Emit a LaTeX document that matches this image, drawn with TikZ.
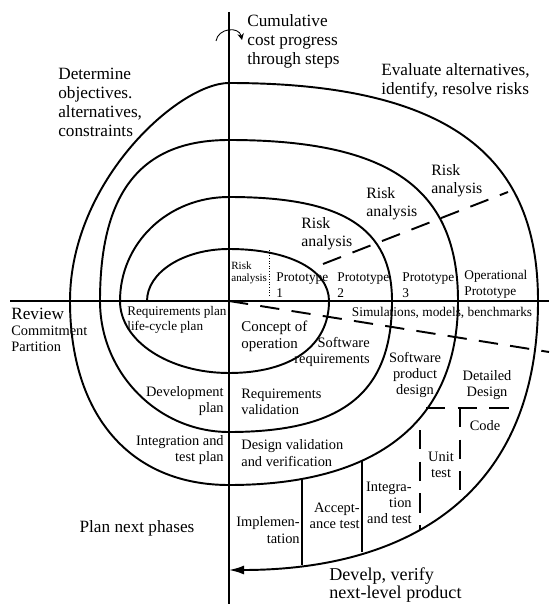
\documentclass[tikz,border=0pt]{standalone}
\usepackage{fontspec}
\setmainfont{Liberation Serif}
\usetikzlibrary{arrows.meta}

\begin{document}
\begin{tikzpicture}[
  x=0.02cm, y=-0.02cm,
  curve/.style={line width=1.1pt},
  dsh/.style={line width=1.1pt, dash pattern=on 11pt off 7pt},
  big/.style={inner sep=0pt, font=\fontsize{9.8}{10.8}\selectfont, align=left},
  risk/.style={inner sep=0pt, font=\fontsize{9}{10}\selectfont, align=left},
  mid/.style={inner sep=0pt, font=\fontsize{8.2}{9.2}\selectfont},
  sml/.style={inner sep=0pt, font=\fontsize{7.6}{9}\selectfont, align=left},
]
\useasboundingbox (0,0) rectangle (550,604);

% axes
\coordinate (O) at (229,301);
\draw[curve] (229,12) -- (229,604);
\draw[curve] (10,301) -- (549,301);

% cumulative cost marker
\draw[line width=0.5pt, -{Stealth[length=1.3mm,width=1.3mm]}] (216,41) .. controls (218,28) and (239,26) .. (242,40);

% the spiral
\draw[curve, -{Latex[length=3mm,width=1.8mm]}] (147,301)
  .. controls (147,272) and (184,249) .. (229,249)
  .. controls (289,249) and (329,270) .. (329,301)
  .. controls (329,346) and (291,373) .. (229,373)
  .. controls (169,373) and (120,341) .. (120,301)
  .. controls (120,243) and (168,197) .. (229,197)
  .. controls (343,197) and (392,228) .. (392,301)
  .. controls (392,393) and (343,432) .. (229,432)
  .. controls (158,432) and (100,373) .. (100,301)
  .. controls (100,192) and (141,140) .. (229,140)
  .. controls (389,140) and (458,188) .. (458,301)
  .. controls (458,421) and (378,485) .. (229,485)
  .. controls (130,485) and (70,415) .. (70,301)
  .. controls (70,181) and (179,83) .. (229,83)
  .. controls (469,83) and (538,171) .. (538,301)
  .. controls (538,501) and (400,570) .. (229,570);

% dashed separators
\draw[dsh] (323,264) -- (508,192);
\draw[dsh] (O) -- (549,352);
\draw[dsh] (426,408) -- (510,408);
\draw[dsh] (460,408) -- (460,490);
\draw[dsh] (420,430) -- (420,530);
\draw[line width=0.5pt, densely dotted] (269,250) -- (269,295);

% phase dividers
\draw[curve] (302,478) -- (302,565);
\draw[curve] (362,460) -- (362,552);

% quadrant texts
\node[big, anchor=west] (cum) at (247,41) {Cumulative\\cost progress\\through steps};
\node[big, anchor=west] (det) at (58,102) {Determine\\objectives.\\alternatives,\\constraints};
\node[big, anchor=west] (eval) at (381,81) {Evaluate alternatives,\\identify, resolve risks};
\node[big, anchor=west] (rev) at (11,314) {Review};
\node[mid, anchor=west, align=left] (com) at (11,339) {Commitment\\Partition};
\node[big, anchor=center] (pnp) at (137,528) {Plan next phases};
\node[big, anchor=west, font=\fontsize{10.3}{10}\selectfont] (dev) at (329,585) {Develp, verify\\next-level product};

% risk analysis
\node[risk, anchor=west] (ra4) at (431,181) {Risk\\analysis};
\node[risk, anchor=west] (ra3) at (366,204) {Risk\\analysis};
\node[risk, anchor=west] (ra2) at (301,234) {Risk\\analysis};
\node[inner sep=0pt, anchor=west, align=left, font=\fontsize{6.3}{6.9}\selectfont] (ra1) at (231,273) {Risk\\analysis};

% prototypes
\node[sml, anchor=west] (p1) at (276,285) {Prototype\\1};
\node[sml, anchor=west] (p2) at (337,285) {Prototype\\2};
\node[sml, anchor=west] (p3) at (402,285) {Prototype\\3};
\node[sml, anchor=west] (op) at (464,284) {Operational\\Prototype};
\node[sml, anchor=center] (sim) at (442,313) {Simulations, models, benchmarks};

% plans and products
\node[sml, anchor=west, font=\fontsize{7.5}{8.6}\selectfont] (rp) at (127,320) {Requirements plan\\life-cycle plan};
\node[mid, anchor=west, align=left, font=\fontsize{8.5}{9.6}\selectfont] (co) at (241,336) {Concept of\\operation};
\node[mid, anchor=east, align=right] (sr) at (370,352) {Software\\requirements};
\node[mid, anchor=center, align=center] (spd) at (415,375) {Software\\product\\design};
\node[mid, anchor=center, align=center] (dd) at (487,385) {Detailed\\Design};
\node[mid, anchor=center] (code) at (485,426) {Code};
\node[mid, anchor=east, align=right] (dp) at (224,401) {Development\\plan};
\node[mid, anchor=west, align=left] (rv) at (241,402) {Requirements\\validation};
\node[mid, anchor=east, align=right] (itp) at (224,450) {Integration and\\test plan};
\node[mid, anchor=west, align=left] (dv) at (241,453) {Design validation\\and verification};

% development steps
\node[mid, anchor=center, align=center] (ut) at (441,465) {Unit\\test};
\node[mid, anchor=east, align=right] (it) at (412,503) {Integra-\\tion\\and test};
\node[mid, anchor=east, align=right] (at) at (360,516) {Accept-\\ance test};
\node[mid, anchor=east, align=right] (im) at (300,530) {Implemen-\\tation};

\end{tikzpicture}
\end{document}
